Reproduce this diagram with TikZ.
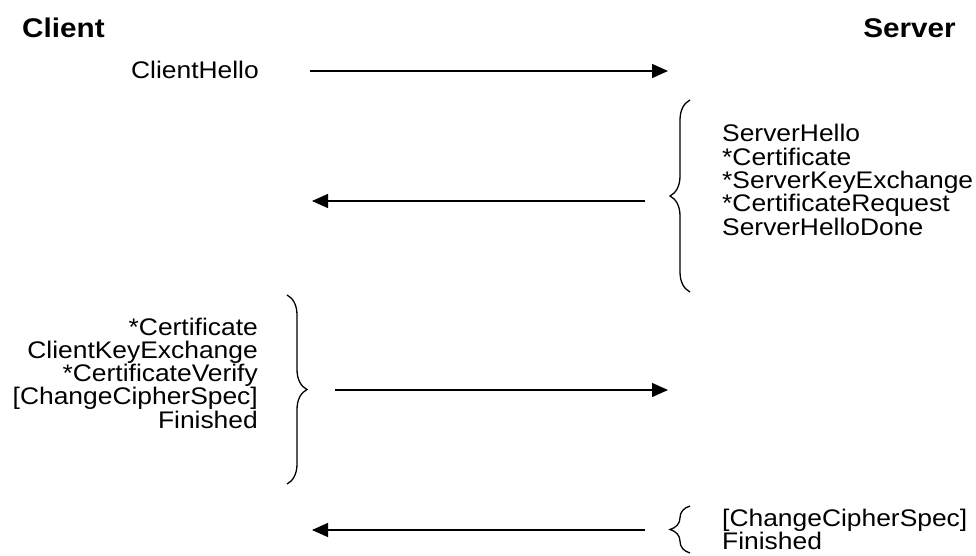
\documentclass[tikz,border=0pt]{standalone}
\usepackage{fontspec}
\setmainfont[FakeStretch=1.1]{Liberation Sans}
\usetikzlibrary{arrows.meta,decorations.pathreplacing}
\begin{document}
\begin{tikzpicture}[x=1pt,y=-1pt,
  party/.style={font=\fontsize{27}{30}\selectfont\bfseries, inner sep=0pt},
  msg/.style={font=\fontsize{24}{23.3}\selectfont, inner sep=0pt},
  flow/.style={line width=1.4pt, -{Triangle[length=16pt,width=14pt]}},
  curly/.style={line width=1.3pt, decorate, decoration={brace, amplitude=20pt}}
]
\useasboundingbox (0,0) rectangle (976,556);

% parties
\node[party, anchor=base west] (client) at (22,38) {Client};
\node[party, anchor=base east] (server) at (956,38) {Server};

% ClientHello
\node[msg, anchor=base east] (ch) at (259,79) {ClientHello};
\coordinate (ch-from) at (310,71);
\coordinate (ch-to) at (668,71);
\draw[flow] (ch-from) -- (ch-to);

% server hello flight
\foreach \t [count=\i] in {ServerHello,*Certificate,*ServerKeyExchange,*CertificateRequest,ServerHelloDone}
  \node[msg, anchor=base west] (sh\i) at (722,{142+(\i-1)*23.3}) {\t};
\coordinate (sb-bot) at (690,292);
\coordinate (sb-top) at (690,100);
\draw[curly] (sb-bot) -- (sb-top);
\coordinate (sh-from) at (645,201);
\coordinate (sh-to) at (312,201);
\draw[flow] (sh-from) -- (sh-to);

% client key exchange flight
\foreach \t [count=\i] in {*Certificate,ClientKeyExchange,*CertificateVerify,[ChangeCipherSpec],Finished}
  \node[msg, anchor=base east] (ck\i) at (258,{335+(\i-1)*23.3}) {\t};
\coordinate (cb-top) at (287,295);
\coordinate (cb-bot) at (287,484);
\draw[curly] (cb-top) -- (cb-bot);
\coordinate (ck-from) at (335,390);
\coordinate (ck-to) at (668,390);
\draw[flow] (ck-from) -- (ck-to);

% server finished flight
\node[msg, anchor=base west] (sf1) at (722,526) {[ChangeCipherSpec]};
\node[msg, anchor=base west] (sf2) at (722,549.3) {Finished};
\coordinate (fb-bot) at (690,553);
\coordinate (fb-top) at (690,506);
\draw[curly] (fb-bot) -- (fb-top);
\coordinate (sf-from) at (645,530);
\coordinate (sf-to) at (312,530);
\draw[flow] (sf-from) -- (sf-to);
\end{tikzpicture}
\end{document}
